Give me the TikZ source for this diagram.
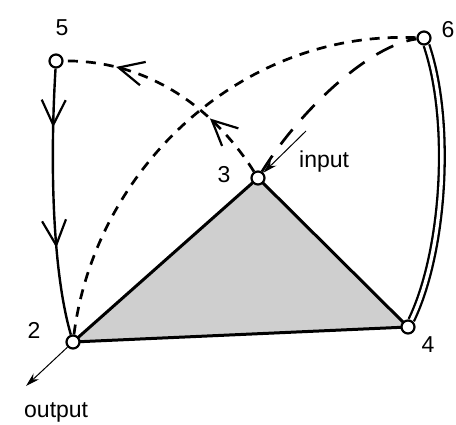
\documentclass[tikz,border=0pt]{standalone}
\usepackage{fontspec}
\setmainfont{Liberation Sans}
\usetikzlibrary{arrows.meta,decorations.markings}
\pgfdeclarelayer{bg}
\pgfsetlayers{bg,main}
\tikzset{
  vert/.style={circle, draw, fill=white, line width=2.2pt, minimum size=13pt, inner sep=0pt},
  lbl/.style={font=\fontsize{23}{25}\selectfont, anchor=base, inner sep=0pt},
  edgeline/.style={line width=2.4pt},
  barbat/.style={postaction={decorate, decoration={markings,
      mark=at position #1 with {\arrow{Straight Barb[length=25pt,width=24pt,line width=2.2pt]}}}}},
  shortdash/.style={line width=2.7pt, dash pattern=on 10pt off 8pt},
  longdash/.style={line width=2.7pt, dash pattern=on 19pt off 14pt},
  feed/.style={line width=1pt, -{Stealth[length=14pt,width=8pt]}},
}
\begin{document}
\begin{tikzpicture}[x=1pt,y=-1pt]
\useasboundingbox (0,0) rectangle (456,424);
% vertices
\node[vert] (n5) at (56,61) {};
\node[vert] (n6) at (424,38) {};
\node[vert] (n3) at (258,178) {};
\node[vert] (n2) at (73,342) {};
\node[vert] (n4) at (408,327) {};
\coordinate (inA) at (306,131);
\coordinate (outA) at (26,386);
% labels
\node[lbl] (l5) at (62,35) {5};
\node[lbl] (l6) at (448,37) {6};
\node[lbl] (l3) at (224,182) {3};
\node[lbl] (l2) at (34,338) {2};
\node[lbl] (l4) at (428,352) {4};
\node[lbl, anchor=base west] (lin) at (299,167) {input};
\node[lbl, anchor=base west] (lout) at (24,417) {output};
\begin{pgfonlayer}{bg}
% shaded triangle
\fill[black!19] (n2.center) -- (n3.center) -- (n4.center) -- cycle;
\draw[line width=3pt, line join=round] (n2.center) -- (n3.center) -- (n4.center) -- cycle;
% solid edge 5 -> 2
\draw[edgeline, barbat=0.22, barbat=0.67] (n5) .. controls (50,160) and (52,270) .. (n2);
% dashed edge 3 -> 5
\draw[shortdash, barbat=0.3, barbat=0.77] (n3) .. controls (215,110) and (150,60) .. (n5);
% dashed edge 2 - 6
\draw[shortdash] (n2) .. controls (95,170) and (240,30) .. (n6);
% long dashed edge 3 - 6
\draw[longdash] (n3) .. controls (300,110) and (370,45) .. (n6);
% double edge 6 - 4
\draw[line width=2.3pt, double=white, double distance=3.4pt] (n6) .. controls (452,120) and (445,250) .. (n4);
\end{pgfonlayer}
% input / output
\draw[feed] (inA) -- (n3);
\draw[feed] (n2) -- (outA);
\end{tikzpicture}
\end{document}
